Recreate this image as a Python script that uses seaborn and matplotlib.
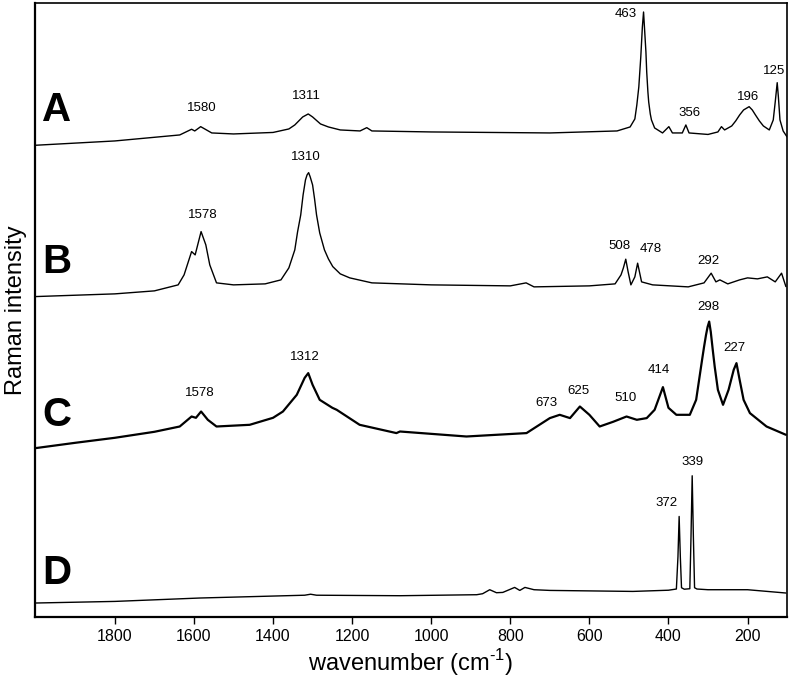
import numpy as np
import pandas as pd
import matplotlib
matplotlib.use('Agg')
import matplotlib.pyplot as plt
import seaborn as sns

# Spectra (wavenumber in cm-1, intensity in arbitrary offset units)
a_wn = [2000, 1800, 1636, 1615, 1606, 1598, 1583, 1555, 1500, 1400, 1360, 1345, 1325, 1311,
        1300, 1280, 1260, 1230, 1180, 1163, 1150, 1000, 700, 530, 497, 485, 480, 475, 470,
        466, 463, 460, 457, 455, 452, 450, 446, 443, 435, 415, 399, 390, 365, 356, 348, 300,
        275, 266, 258, 240, 230, 220, 210, 196, 188, 180, 170, 160, 145, 135, 130, 125, 122,
        118, 110, 100]
a_int = [471.7, 476, 482, 486, 487.7, 486, 490.3, 484, 483, 484.5, 488, 492, 500, 503,
         500, 493, 490, 487, 486, 489.3, 486, 485, 484, 486, 490, 498, 512, 530, 560,
         590, 605, 585, 565, 545, 525, 515, 503, 497, 489, 484, 490.3, 484, 484, 492, 484, 482.5,
         485, 490.3, 487, 491, 496, 502, 507, 510.3, 507, 502, 496, 491, 487, 497, 515, 534.3, 520,
         497, 486, 480]

b_wn = [2000, 1800, 1700, 1640, 1625, 1606, 1597, 1582, 1570, 1560, 1543, 1500, 1420, 1380,
        1360, 1345, 1338, 1330, 1324, 1318, 1314, 1310, 1306, 1300, 1295, 1290, 1282, 1270,
        1260, 1249, 1230, 1206, 1150, 1000, 800, 760, 740, 600, 535, 520, 514, 508, 502, 495,
        485, 478, 468, 440, 350, 310, 292, 280, 270, 250, 220, 200, 175, 150, 130, 114, 103]
b_int = [320.3, 323, 326, 332, 342, 365.3, 362, 385.3, 372, 352, 334, 332, 333, 337,
         349, 367, 385, 402, 422, 437, 442, 444.3, 440, 432, 418, 402, 384, 367,
         358, 350.3, 343, 339, 334, 332, 331, 334, 330, 331, 333, 342, 349, 357.7, 345, 332,
         340, 353.7, 335, 332, 330, 334, 343.7, 335, 337, 333, 337, 339, 338, 340, 335, 343.7, 330.3]

c_wn = [2000, 1900, 1800, 1700, 1636, 1606, 1595, 1582, 1565, 1543, 1459, 1400, 1375, 1340,
        1320, 1311, 1300, 1282, 1250, 1239, 1181, 1088, 1079, 911, 759, 700, 675, 649, 624,
        600, 574, 540, 506, 480, 455, 435, 414, 400, 380, 346, 330, 315, 310, 305, 301, 297,
        293, 288, 283, 275, 262, 248, 235, 228, 220, 210, 194, 152, 103]
c_int = [168.7, 174, 179, 185, 190.3, 200.3, 199, 205.3, 197, 190.3, 192, 199, 205.3, 222,
         239, 243.7, 232, 217, 209, 207, 192, 183.7, 185.3, 180.3, 183.7, 198.7, 202, 198.7, 210.3,
         202, 190.3, 195, 200.3, 197, 198.7, 207, 229.7, 209, 202, 202, 217, 257, 270, 282, 290, 295.3,
         285, 267, 250, 227, 212, 227, 247, 253.7, 237, 217, 203.7, 190.3, 182]

d_wn = [2000, 1800, 1585, 1320, 1305, 1290, 1079, 885, 870, 852, 835, 819, 789, 776, 763,
        740, 700, 490, 400, 380, 376, 373, 370, 367, 360, 346, 343, 340, 337, 334, 328, 300,
        200, 103]
d_int = [13.7, 15.3, 18.7, 21.5, 22.5, 21.5, 21, 22, 23, 27, 24, 24.3, 29.3, 26.3, 29.3,
         27, 26.3, 25.3, 26.5, 27.7, 60, 100.3, 60, 29, 27.5, 28, 80, 141, 80, 29, 27.7, 27,
         27, 23.7]

trace_names = ['A', 'B', 'C', 'D']

# peak labels per trace
a_labels = ['1580', '1311', '463', '356', '196', '125']
b_labels = ['1578', '1310', '508', '478', '292']
c_labels = ['1578', '1312', '673', '625', '510', '414', '298', '227']
d_labels = ['372', '339']

xticks = [1800, 1600, 1400, 1200, 1000, 800, 600, 400, 200]

# label placement (data coords: wavenumber, intensity)
a_label_pos = [(1581, 509), (1315, 521), (508, 603), (346, 504), (199, 520), (133, 546)]
b_label_pos = [(1578, 402), (1317, 460), (525, 371), (445, 368), (298, 356)]
c_label_pos = [(1585, 224), (1320, 260), (708, 214), (627, 226), (508, 219), (424, 247),
               (300, 310), (234, 269)]
d_label_pos = [(405, 114), (339, 155)]
letter_y = [507, 355, 202, 44]

df = pd.concat([
    pd.DataFrame({'wn': a_wn, 'intensity': a_int, 'trace': 'A'}),
    pd.DataFrame({'wn': b_wn, 'intensity': b_int, 'trace': 'B'}),
    pd.DataFrame({'wn': c_wn, 'intensity': c_int, 'trace': 'C'}),
    pd.DataFrame({'wn': d_wn, 'intensity': d_int, 'trace': 'D'}),
], ignore_index=True)

sns.set_style('ticks')
plt.rcParams['font.family'] = ['Liberation Sans', 'DejaVu Sans']
plt.rcParams['text.color'] = 'black'
plt.rcParams['axes.labelcolor'] = 'black'
plt.rcParams['xtick.color'] = 'black'
plt.rcParams['mathtext.fontset'] = 'custom'
plt.rcParams['mathtext.rm'] = 'Liberation Sans'

fig = plt.figure(figsize=(7.92, 6.85), dpi=100)
ax = fig.add_axes([0.0442, 0.0997, 0.9491, 0.8959])

widths = {'A': 1.0, 'B': 1.0, 'C': 1.6, 'D': 1.0}
for name in trace_names:
    sub = df[df['trace'] == name]
    sns.lineplot(data=sub, x='wn', y='intensity', ax=ax, color='black',
                 lw=widths[name], estimator=None, sort=False)

all_labels = [(a_labels, a_label_pos), (b_labels, b_label_pos),
              (c_labels, c_label_pos), (d_labels, d_label_pos)]
for labels, positions in all_labels:
    for txt, (x, y) in zip(labels, positions):
        ax.text(x, y, txt, ha='center', va='center', fontsize=9.5, color='black')

for name, y in zip(trace_names, letter_y):
    ax.text(1947, y, name, ha='center', va='center', fontsize=29,
            fontweight='bold', color='black')

ax.set_xlim(2002, 101)
ax.set_ylim(0, 614)
ax.set_xticks(xticks)
ax.set_xticklabels([str(t) for t in xticks], fontsize=11.5)
ax.set_yticks([])
ax.tick_params(axis='x', direction='out', length=5, width=1, color='black',
               labelcolor='black', pad=4)
ax.set_xlabel('wavenumber (cm$^{\\text{-1}}$)', fontsize=17, labelpad=2)
ax.set_ylabel('Raman intensity', fontsize=17, labelpad=6)
for side in ['left', 'right', 'top', 'bottom']:
    ax.spines[side].set_visible(True)
    ax.spines[side].set_color('black')
    ax.spines[side].set_linewidth(1.2)
ax.spines['left'].set_linewidth(1.6)
ax.spines['bottom'].set_linewidth(1.6)

fig.savefig('out.png', dpi=100)
